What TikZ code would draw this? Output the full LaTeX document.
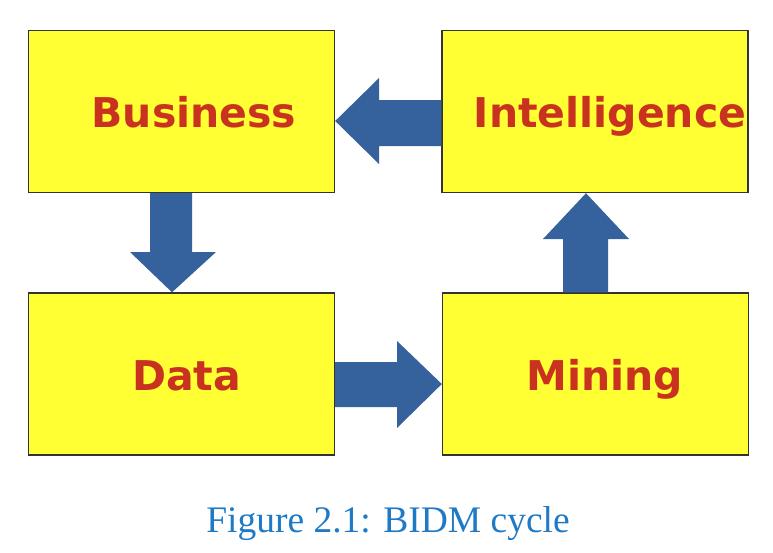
\documentclass[tikz,border=0pt]{standalone}
\usepackage{fontspec}
\setmainfont{Liberation Serif}
\newfontfamily\boxfont{DejaVu Sans}
\usetikzlibrary{calc}
\definecolor{boxyellow}{HTML}{FFFF33}
\definecolor{boxred}{HTML}{C8321E}
\definecolor{arrowblue}{HTML}{35619C}
\definecolor{capblue}{HTML}{1F7AC6}
\tikzset{
  box/.style={draw=black!80, line width=1.4pt, fill=boxyellow, inner sep=0pt,
    minimum width=306pt, minimum height=162pt},
  boxlabel/.style={text=boxred, font=\boxfont\bfseries\fontsize{41}{49}\selectfont, inner sep=0pt, anchor=base},
  blockarrow/.style={fill=arrowblue, draw=none}
}
\begin{document}
\begin{tikzpicture}[x=1pt,y=-1pt]
\useasboundingbox (0,0) rectangle (773,552);
% boxes
\node[box] (biz) at (181.5,111.5) {};
\node[box] (intel) at (595,111.5) {};
\node[box] (data) at (181.5,374) {};
\node[box] (mining) at (595.5,374) {};
% labels
\node[boxlabel] (bizt) at (194,127) {Business};
\begin{scope}
  \clip (intel.south west) rectangle (intel.north east);
  \node[boxlabel] (intelt) at (610,127) {Intelligence};
\end{scope}
\draw[black!80, line width=1.4pt] (intel.north east) -- (intel.south east);
\node[boxlabel] (datat) at (186.5,390) {Data};
\node[boxlabel] (miningt) at (605,390) {Mining};
% arrows
% Intelligence -> Business (left)
\fill[blockarrow] (intel.west |- 0,100) -- (379,100) -- (379,78) -- (biz.east |- 0,121)
  -- (379,164) -- (379,146) -- (intel.west |- 0,146) -- cycle;
% Business -> Data (down)
\fill[blockarrow] (150,0 |- biz.south) -- (150,252) -- (130,252) -- (172,0 |- data.north)
  -- (216,252) -- (192,252) -- (192,0 |- biz.south) -- cycle;
% Data -> Mining (right)
\fill[blockarrow] (data.east |- 0,362) -- (397,362) -- (397,341) -- (mining.west |- 0,384)
  -- (397,428) -- (397,407) -- (data.east |- 0,407) -- cycle;
% Mining -> Intelligence (up)
\fill[blockarrow] (563,0 |- mining.north) -- (563,239) -- (543,239) -- (586,0 |- intel.south)
  -- (629,239) -- (608,239) -- (608,0 |- mining.north) -- cycle;
% caption
\node[text=capblue, font=\fontsize{37.5}{45}\selectfont, inner sep=0pt, anchor=base] (cap) at (388,532) {Figure 2.1: BIDM cycle};
\end{tikzpicture}
\end{document}
